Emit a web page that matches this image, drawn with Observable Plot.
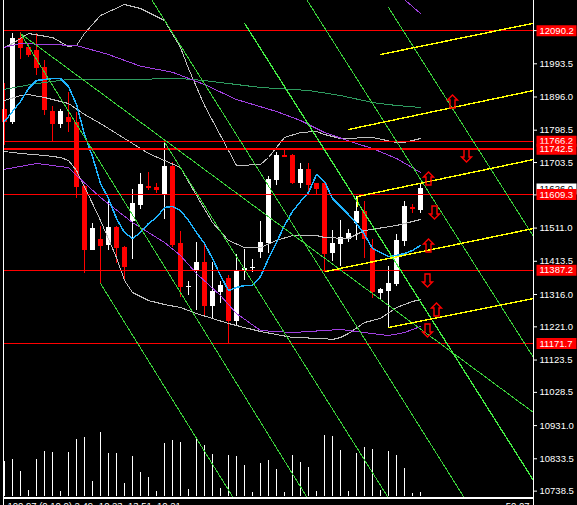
<!DOCTYPE html>
<html><head><meta charset="utf-8">
<script src="https://cdn.jsdelivr.net/npm/d3@7"></script>
<script src="https://cdn.jsdelivr.net/npm/@observablehq/plot@0.6"></script>
<style>
html,body{margin:0;padding:0;background:#000;color:#fff;font:11px sans-serif;}
#chart{position:relative;width:577px;height:505px;background:#000;overflow:hidden;}
#chart svg{position:absolute;left:0;top:0;}
</style></head><body><div id="chart"></div>
<script>
const opens = [11860.2,11822.0,12068.7,12042.2,12032.6,11983.5,11853.4,11815.2,11836.7,11822.0,11634.0,11445.2,11476.6,11459.9,11513.6,11454.9,11530.3,11577.3,11634.0,11631.1,11606.7,11692.8,11464.9,11337.4,11384.4,11409.1,11280.7,11320.9,11362.1,11236.7,11384.4,11391.4,11440.2,11464.9,11650.8,11724.2,11724.2,11642.8,11683.1,11641.1,11642.8,11435.5,11462.8,11476.6,11525.3,11559.7,11451.9,11319.8,11325.6,11345.3,11472.5,11572.3,11562.7];
const highs = [11935.6,12081.6,12084.5,12050.2,12081.6,12003.2,11868.1,11859.3,11910.1,11851.4,11636.1,11525.3,11515.7,11589.1,11515.7,11456.9,11624.3,11672.2,11675.1,11642.8,11763.2,11702.7,11501.9,11354.1,11467.8,11467.8,11409.1,11354.1,11371.8,11433.4,11448.1,11417.9,11530.3,11663.4,11733.9,11740.9,11727.1,11699.8,11699.8,11642.8,11645.8,11503.9,11533.3,11506.0,11603.8,11589.1,11476.6,11334.5,11398.2,11491.3,11589.1,11580.3,11642.8];
const lows = [11753.5,11814.3,12006.1,12011.1,11959.1,11841.7,11763.2,11804.4,11792.6,11597.9,11376.7,11445.2,11347.4,11445.2,11406.1,11359.1,11417.9,11565.6,11621.4,11613.5,11535.3,11454.9,11306.3,11313.0,11269.0,11249.3,11246.3,11288.6,11171.2,11224.9,11357.1,11381.4,11420.8,11435.5,11636.1,11717.4,11638.1,11628.1,11606.7,11606.7,11381.4,11412.9,11398.2,11469.6,11474.5,11420.8,11303.3,11298.3,11219.9,11339.4,11456.9,11554.7,11554.7];
const closes = [11822.0,12068.7,12039.3,12017.9,11980.6,11856.3,11815.2,11853.4,11822.0,11631.1,11445.2,11510.7,11456.9,11513.6,11451.9,11396.1,11582.3,11638.1,11628.1,11621.4,11691.9,11459.9,11337.4,11339.4,11409.1,11280.7,11324.8,11342.4,11236.7,11386.4,11393.2,11396.1,11467.8,11653.7,11724.2,11719.2,11642.8,11683.1,11636.1,11624.3,11433.4,11466.6,11482.5,11494.2,11559.7,11476.6,11322.7,11330.6,11349.1,11474.5,11574.4,11566.5,11626.0];
const volumes = [35,37,25,6,37,45,44,5,44,57,59,15,64,43,43,13,40,24,19,5,53,56,54,7,57,51,42,8,41,40,31,4,33,36,27,4,41,34,29,5,61,60,46,5,43,49,47,6,45,41,28,3,4];

const fastMA = [11824.0,11853.4,11882.8,11921.0,11944.4,11947.4,11950.3,11950.3,11926.8,11874.0,11785.9,11721.2,11641.9,11597.9,11539.2,11498.0,11480.4,11498.0,11524.5,11542.1,11571.5,11574.4,11562.7,11533.3,11498.0,11465.7,11421.7,11371.8,11327.7,11336.5,11342.4,11342.4,11368.8,11421.7,11468.7,11518.6,11559.7,11589.1,11615.5,11668.4,11647.8,11597.9,11574.4,11550.9,11524.5,11492.2,11451.0,11439.3,11427.6,11430.5,11436.4,11445.2,11459.9];
const bandUpper = [[0,12041.4],[1,12053.1],[3,12082.5],[6,12070.7],[8,12044.3],[9,12047.2],[10,12082.5],[12,12135.3],[15,12167.7],[17,12155.9],[20,12120.7],[22,12041.4],[23,11979.7],[25,11871.0],[27,11782.9],[29,11694.8],[32,11697.7],[33,11718.3],[35,11777.0],[37,11791.7],[39,11794.7],[40,11785.9],[42,11774.1],[46,11777.0],[49,11762.4],[50,11762.4],[52,11774.1]];
const bandMiddle = [[0,11885.7],[2,11900.4],[3,11903.3],[5,11894.5],[8,11876.9],[10,11844.6],[12,11818.2],[14,11788.8],[16,11759.4],[18,11730.1],[20,11709.5],[22,11688.9],[24,11606.7],[26,11527.4],[28,11474.5],[30,11454.0],[32,11454.0],[34,11474.5],[36,11489.2],[39,11489.2],[40,11483.3],[43,11480.4],[45,11503.9],[49,11518.6],[52,11536.2]];
const bandLower = [[0,11735.9],[2,11730.1],[5,11724.2],[7,11718.3],[8,11709.5],[9,11680.1],[11,11583.2],[12,11533.3],[14,11424.6],[15,11357.1],[16,11321.8],[18,11298.3],[20,11286.6],[22,11277.8],[24,11260.2],[28,11230.8],[30,11219.0],[32,11207.3],[36,11189.7],[40,11186.7],[41,11183.8],[42,11189.7],[43,11201.4],[45,11233.7],[47,11245.5],[49,11277.8],[51,11295.4],[52,11301.3]];
const slowMA = [[-0.125,12041.4],[2,12053.1],[9,12047.2],[13,12020.8],[17,11986.4],[21,11968.8],[25,11932.7],[29,11888.6],[34,11853.4],[37,11827.0],[40,11791.7],[44,11759.4],[46,11744.7],[49,11715.4],[52,11674.3]];
const slowMA2 = [[-0.125,11683.1],[4,11700.7],[8,11688.9],[9,11665.4],[12,11600.8],[16,11527.4],[20,11468.7],[22,11430.5],[24,11377.6],[27,11313.0],[29,11260.2],[32,11210.2],[36,11204.3],[42,11213.2],[45,11204.3],[48,11195.5],[50,11204.3],[52,11222.0]];
const midMA = [[-0.125,11918.0],[4,11935.6],[8,11947.4],[15,11947.4],[22,11950.3],[25,11944.4],[32,11923.9],[38,11915.1],[42,11900.4],[46,11879.8],[49,11871.0],[52,11865.2]];
const purpleStub = [[50.125,12179.4],[52,12141.2]];

const levels = [12090.2, 11766.2, 11742.5, 11609.3, 11387.2, 11171.7];
const levelWidths = [1, 1, 2, 1, 1, 1];
const bidPrice = 11626.0;
const greenLines = [
  [[12,11348.3],[28.5,10722.7]],
  [[2,12082.5],[37.75,10722.7]],
  [[20,11763.2],[47.875,10722.7]],
  [[18.46,12179.4],[57.375,10722.7]],
  [[37.84,12179.4],[66.125,11130.9]],
  [[48,12158.8],[66.125,11486.3]],
  [[2,12082.5],[66.125,10969.4]]
];
const brightGreenLine = [[30.04,12111.0],[66.125,10769.7]];
const yellowLines = [
  [[47,12020.8],[66.125,12112.7]],
  [[43,11800.5],[66.125,11915.1]],
  [[44.125,11574.4],[44.125,11603.8],[66.125,11712.4]],
  [[40.125,11383.5],[66.125,11509.8]],
  [[48,11219.0],[66.125,11304.2]]
];
const arrowsUp = [[56,11882.8],[53,11656.6],[53,11459.9],[54,11271.9]];
const arrowsDown = [[57.75,11724.2],[53.75,11556.8],[52.875,11357.1],[52.875,11210.2]];
const yTicks = [12188.5,12091.0,11993.5,11896.0,11798.5,11703.5,11608.5,11511.0,11413.5,11316.0,11221.0,11123.5,11028.5,10931.0,10833.5,10738.5];

const leftEdge = -0.125, axisEdge = 66.125;
const paneBottom = 10720.7, subTop = 10715.9;

function build() {
  const W = 577, H = 505;
  const xCfg = {domain: [-0.5, 66.125], axis: null};
  const common = {width: W, height: H, marginLeft: 0, marginRight: 44, marginTop: 0, marginBottom: 0};
  const bars = opens.map((o, i) => ({i, o, h: highs[i], l: lows[i], c: closes[i], up: closes[i] >= o}));
  const col = (b) => b.up ? "#ffffff" : "#ff0000";
  const bodyEnd = (b) => (Math.abs(b.c - b.o) < 3 ? b.o + (b.up ? 3 : -3) : b.c);
  const boxSym = {draw(ctx) { ctx.rect(0, -5.5, 40, 11); }};
  const upSym = {draw(ctx) {
    ctx.moveTo(0, -6.5); ctx.lineTo(5, -1.5); ctx.lineTo(2.5, -1.5); ctx.lineTo(2.5, 6.5);
    ctx.lineTo(-2.5, 6.5); ctx.lineTo(-2.5, -1.5); ctx.lineTo(-5, -1.5); ctx.closePath();
  }};
  const downSym = {draw(ctx) {
    ctx.moveTo(0, 6.5); ctx.lineTo(5, 1.5); ctx.lineTo(2.5, 1.5); ctx.lineTo(2.5, -6.5);
    ctx.lineTo(-2.5, -6.5); ctx.lineTo(-2.5, 1.5); ctx.lineTo(-5, 1.5); ctx.closePath();
  }};

  const vol = Plot.plot({
    ...common,
    style: {background: "#000"},
    x: xCfg,
    y: {domain: [0, 100], range: [496, 396], axis: null},
    marks: [Plot.ruleX(volumes, {x: (v, i) => i, y1: 0, y2: (v) => v, stroke: "#ffffff", shapeRendering: "crispEdges"})]
  });

  const line = (data, stroke, w = 1) => Plot.line(data, {x: (p) => p[0], y: (p) => p[1], stroke, strokeWidth: w, shapeRendering: "crispEdges"});

  const marks = [
    Plot.ruleX(bars, {x: "i", y1: "l", y2: "h", stroke: col, shapeRendering: "crispEdges"}),
    Plot.ruleX(bars, {x: "i", y1: "o", y2: bodyEnd, stroke: col, strokeWidth: 5, shapeRendering: "crispEdges"}),
    line(bandUpper, "#c0c0c0"),
    line(bandMiddle, "#c0c0c0"),
    line(bandLower, "#c0c0c0"),
    line(midMA, "#2e9b5f"),
    line(slowMA, "#a040e0"),
    line(slowMA2, "#a040e0"),
    line(purpleStub, "#a040e0"),
    Plot.line(fastMA, {x: (v, i) => i, y: (v) => v, stroke: "#1eb4ff", shapeRendering: "crispEdges"}),
    ...levels.map((v, k) => Plot.ruleY([v], {x1: leftEdge, x2: axisEdge, stroke: "#ff0000", strokeWidth: levelWidths[k], shapeRendering: "crispEdges"})),
    ...greenLines.map((g) => line(g, "#3ad13a")),
    line(brightGreenLine, "#44ee44", 1.3),
    ...yellowLines.map((g) => line(g, "#ffff00", 1.4)),
    Plot.dot(arrowsUp, {x: (p) => p[0], y: (p) => p[1], symbol: upSym, stroke: "#ff0000", strokeWidth: 1.4, fill: "none"}),
    Plot.dot(arrowsDown, {x: (p) => p[0], y: (p) => p[1], symbol: downSym, stroke: "#ff0000", strokeWidth: 1.4, fill: "none"}),
    Plot.ruleX([leftEdge], {stroke: "#ffffff", shapeRendering: "crispEdges"}),
    Plot.ruleX([axisEdge], {stroke: "#ffffff", shapeRendering: "crispEdges"}),
    Plot.ruleY([paneBottom], {x1: leftEdge, x2: axisEdge, stroke: "#ffffff", shapeRendering: "crispEdges"}),
    Plot.ruleY([subTop], {x1: leftEdge, x2: axisEdge, stroke: "#ffffff", shapeRendering: "crispEdges"}),
    Plot.axisY(yTicks, {anchor: "right", tickSize: 3, tickPadding: 3, tickFormat: (v) => v.toFixed(1), color: "#ffffff"}),
    Plot.dot([bidPrice], {x: () => axisEdge, y: (v) => v, symbol: boxSym, fill: "#ffffff", stroke: null, dx: 3}),
    Plot.text([bidPrice], {x: () => axisEdge, y: (v) => v, text: (v) => v.toFixed(1), fill: "#000000", dx: 6, textAnchor: "start"}),
    ...levels.flatMap((lv) => [
      Plot.dot([lv], {x: () => axisEdge, y: (v) => v, symbol: boxSym, fill: "#ff0000", stroke: null, dx: 3}),
      Plot.text([lv], {x: () => axisEdge, y: (v) => v, text: (v) => v.toFixed(1), fill: "#ffffff", dx: 6, textAnchor: "start"})
    ]),
    Plot.text(["100.97 (0.10,0) 2.49 -10.23  13.51  10.21"], {frameAnchor: "bottom-left", lineAnchor: "top", dx: 7, dy: -3, fill: "#ffffff", textAnchor: "start"}),
    Plot.text(["50.07"], {frameAnchor: "bottom-right", lineAnchor: "top", dx: -4, dy: -3, fill: "#ffffff", textAnchor: "end"})
  ];

  const main = Plot.plot({
    ...common,
    style: {background: "transparent", color: "#ffffff", fontFamily: "'Liberation Sans', Arial, sans-serif", fontSize: "9.5px"},
    x: xCfg,
    y: {domain: [10696.3, 12179.4], axis: null},
    marks
  });
  const el = document.getElementById("chart");
  el.appendChild(vol);
  el.appendChild(main);
}
try { build(); } catch (e) {
  const p = document.createElement("pre");
  p.style.color = "#fff"; p.style.position = "absolute"; p.style.top = "0"; p.style.whiteSpace = "pre-wrap";
  p.textContent = String(e && e.stack || e);
  document.body.appendChild(p);
}
</script>
</body></html>
